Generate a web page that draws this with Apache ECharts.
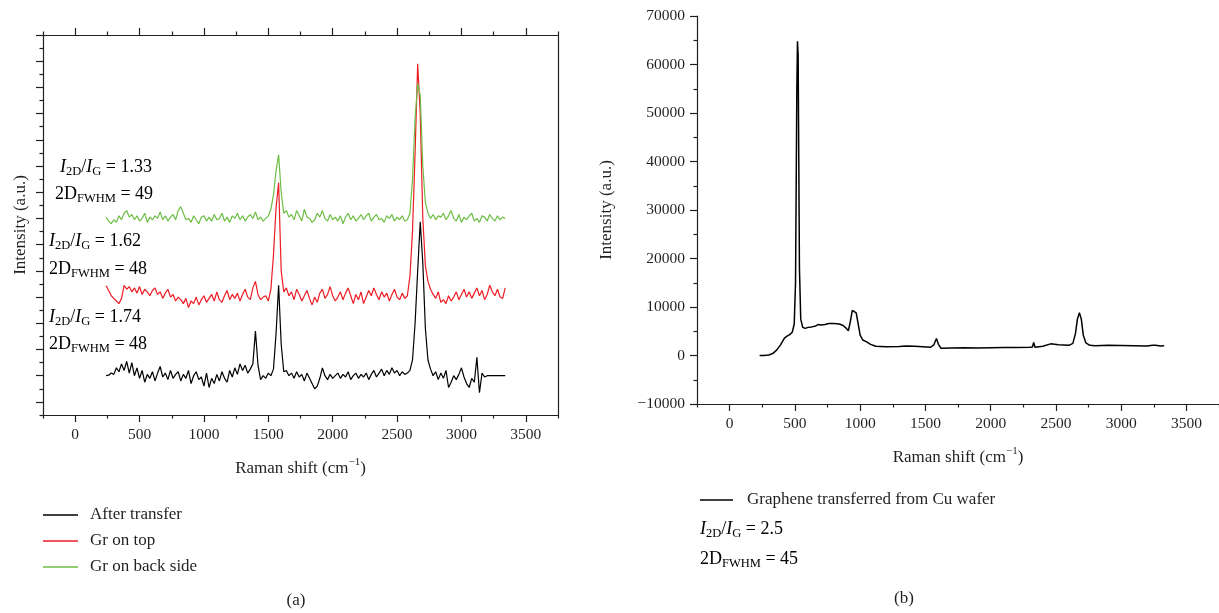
<!DOCTYPE html>
<html><head><meta charset="utf-8">
<script src="https://cdn.jsdelivr.net/npm/echarts@6/dist/echarts.min.js"></script>
<style>html,body{margin:0;padding:0;background:#fff}#c{width:1219px;height:613px}</style>
</head><body><div id="c"></div>
<script>
// ---------- DATA ----------
// Panel (a): sampling grid of Raman shift (cm^-1), 240..3340 step 20
const shiftStart = 240, shiftStep = 20;
const afterTransfer = [
  1.0,1.02,1.1,1.05,1.3,1.15,1.45,1.2,1.55,1.1,
  1.5,1.0,1.3,0.9,1.2,0.75,1.05,0.9,1.15,0.8,
  1.1,1.35,0.95,1.1,0.85,1.2,0.9,1.05,1.15,0.8,
  1.05,0.9,1.2,0.7,1.0,1.15,0.85,0.95,0.6,1.1,
  0.55,0.9,0.7,1.05,0.8,1.15,0.9,0.75,1.2,0.95,
  1.3,1.05,1.45,1.2,1.4,1.1,1.25,1.45,2.7,1.4,
  0.85,1.0,0.9,1.1,1.0,1.25,2.6,4.45,2.2,1.15,
  1.2,1.0,1.1,0.9,1.15,0.95,1.05,0.8,1.1,0.9,
  0.7,0.5,0.6,0.9,1.3,1.0,0.85,1.05,0.9,1.0,
  1.1,0.9,1.05,0.95,1.15,0.85,1.0,1.1,0.9,1.05,
  0.95,1.1,0.85,1.05,1.2,0.95,1.1,1.25,1.0,1.2,
  1.05,1.3,1.1,1.2,1.0,1.15,1.05,1.1,1.2,1.6,
  3.0,5.0,6.87,5.3,2.8,1.6,1.25,1.0,1.15,0.85,
  1.1,0.9,1.2,0.55,0.75,1.0,0.85,1.05,1.3,0.95,
  0.7,0.55,0.9,0.75,1.7,0.35,1.1,0.95,1.0,1.0,
  1.0,1.0,1.0,1.0,1.0,1.0
];
const grOnTop = [
  4.43,4.25,4.05,3.95,3.85,3.75,3.95,4.45,4.3,4.4,
  4.2,4.35,4.15,4.4,4.1,4.3,4.2,4.05,4.25,4.35,
  4.1,4.2,3.95,4.15,4.3,4.0,4.1,3.85,4.0,3.9,
  3.75,3.95,3.6,3.85,3.75,4.0,3.7,3.9,4.05,3.8,
  3.95,4.1,3.85,4.2,3.9,3.8,4.05,4.25,3.9,4.1,
  3.95,4.15,3.85,4.1,4.3,4.0,3.9,4.35,4.6,4.1,
  3.9,4.0,4.05,3.85,4.3,5.6,7.4,8.36,5.0,4.2,
  4.35,4.05,4.2,3.9,4.3,4.1,3.85,4.05,4.25,3.95,
  3.7,4.0,3.8,4.15,4.3,3.95,4.1,4.4,4.05,3.85,
  4.0,4.2,3.9,4.15,4.35,4.05,3.75,4.1,3.9,4.2,
  3.75,4.0,4.25,4.05,4.35,4.1,3.9,4.2,4.0,4.15,
  3.85,4.1,4.3,4.0,3.9,4.15,3.95,4.05,4.8,6.5,
  9.5,12.9,11.0,7.0,5.2,4.6,4.3,4.1,3.95,4.2,
  3.8,3.9,3.75,4.05,3.85,4.0,4.2,3.9,4.1,4.3,
  4.0,4.2,3.95,4.15,4.35,4.05,4.25,3.9,4.1,4.45,
  4.2,4.05,4.3,4.0,3.95,4.35
];
const grOnBackSide = [
  7.04,6.9,6.8,6.95,6.85,7.1,6.95,7.2,7.3,7.05,
  7.15,6.95,7.1,6.9,7.0,7.2,6.85,7.05,6.95,7.1,
  7.0,7.25,6.95,7.1,6.9,7.05,7.15,6.95,7.3,7.45,
  7.2,6.95,7.0,6.85,7.1,6.95,6.8,7.05,7.1,6.9,
  7.05,6.9,7.15,6.95,7.0,7.2,6.9,7.05,6.85,7.1,
  7.0,7.2,6.95,7.1,6.9,7.05,7.15,7.0,7.25,6.95,
  7.05,6.9,7.0,7.1,7.35,7.9,8.8,9.44,8.0,7.2,
  7.3,7.05,7.15,6.95,7.3,7.1,6.9,7.35,7.05,7.0,
  6.85,6.95,7.2,7.05,7.3,7.0,6.9,7.15,6.95,7.05,
  6.9,7.1,6.8,7.05,7.2,6.95,7.1,6.9,7.0,7.15,
  6.95,7.1,7.2,6.9,7.05,7.15,6.95,7.0,6.85,7.1,
  7.0,7.15,6.9,7.05,6.95,7.1,6.9,6.95,7.2,8.5,
  10.8,12.15,11.7,9.0,7.6,7.2,7.0,7.15,6.95,7.1,
  7.05,7.2,6.95,7.1,7.3,7.0,6.9,7.15,6.85,7.05,
  6.95,7.1,7.2,6.9,7.0,6.85,7.1,7.05,6.9,7.15,
  7.0,6.9,7.1,6.95,7.05,7.0
];
// Panel (b)
const waferShift = [
  230,260,300,330,360,390,420,440,460,480,
  495,505,510,515,520,525,530,535,545,560,
  580,600,630,660,680,700,730,760,800,840,
  870,890,910,925,940,955,970,985,1000,1020,
  1050,1080,1120,1200,1300,1350,1420,1480,1540,1565,
  1585,1600,1620,1700,1800,1900,2000,2100,2200,2300,
  2320,2330,2340,2400,2460,2520,2600,2630,2650,2665,
  2680,2695,2710,2730,2760,2800,2900,3000,3100,3200,
  3240,3250,3265,3300,3330
];
const waferIntensity = [
  0,0,100,400,1100,2200,3600,4000,4300,4800,
  6500,15000,35000,55000,64800,62000,40000,18000,7500,5800,
  5600,5800,5900,6100,6400,6300,6400,6600,6600,6500,
  6200,5700,5100,7000,9300,9100,8800,6500,4200,3200,
  2800,2300,1900,1800,1850,1950,1900,1800,1700,2200,
  3500,2300,1500,1550,1600,1550,1600,1650,1650,1700,
  1750,2700,1700,1900,2400,2200,2100,2500,4500,7500,
  8800,7500,4200,2600,2100,2000,2100,2050,2000,1950,
  2100,2500,2100,1950,2000
];
// Tick values
const xMajorTicks = [0,500,1000,1500,2000,2500,3000,3500];
const xMinorTicks = [-250,250,750,1250,1750,2250,2750,3250,3750];
const aYMajorTicks = [0,1,2,3,4,5,6,7,8,9,10,11,12,13,14];
const aYMinorTicks = [-0.5,0.5,1.5,2.5,3.5,4.5,5.5,6.5,7.5,8.5,9.5,10.5,11.5,12.5,13.5];
const bYMajorTicks = [-10000,0,10000,20000,30000,40000,50000,60000,70000];
const bYMinorTicks = [-5000,5000,15000,25000,35000,45000,55000,65000];
const seriesNamesA = ['After transfer','Gr on top','Gr on back side'];
const seriesNameB = 'Graphene transferred from Cu wafer';

// ---------- CHART ----------
const FONT = 'Liberation Serif';
const INK = '#231f20';
const RED = '#ed1c24', GREEN = '#6dbe45';
const pairs = vals => vals.map((v,i)=>[shiftStart + shiftStep*i, v]);
const plainNum = v => v < 0 ? '−' + Math.abs(v) : String(v);

const chart = echarts.init(document.getElementById('c'), null, {renderer:'canvas'});

const axisLineStyle = {show:true, onZero:false, lineStyle:{color:INK, width:1.2}};
const noLine = {show:false, onZero:false};
const nameRich = {
  n:{fontFamily:FONT, fontSize:17, color:INK, lineHeight:20, verticalAlign:'bottom'},
  p:{fontFamily:FONT, fontSize:11, color:INK, lineHeight:8, verticalAlign:'top'}
};
const ramanName = '{n|Raman shift (cm}{p|−1}{n|)}';

function xAxes(grid, pos, withLabels) {
  const base = {type:'value', gridIndex:grid, position:pos, min:-250, max:3750,
    splitLine:{show:false}, axisLine:axisLineStyle};
  const maj = Object.assign({}, base, {
    axisTick:{show:true, inside:false, length:7, customValues:xMajorTicks, lineStyle:{color:INK, width:1.2}},
    axisLabel: withLabels ? {show:true, customValues:xMajorTicks, margin:12, fontFamily:FONT, fontSize:15.5, color:INK, formatter:plainNum}
                          : {show:false}
  });
  if (withLabels) {
    maj.name = ramanName; maj.nameLocation = 'middle'; maj.nameGap = 42;
    maj.nameTextStyle = {rich:nameRich};
  }
  const min = Object.assign({}, base, {
    axisLine:noLine,
    axisTick:{show:true, inside:false, length:3.5, customValues:xMinorTicks, lineStyle:{color:INK, width:1.2}},
    axisLabel:{show:false}
  });
  return [maj, min];
}

const option = {
  animation:false,
  backgroundColor:'#fff',
  grid:[
    {left:43, top:35, width:515, height:380},
    {left:697, top:16, width:525, height:388}
  ],
  xAxis:[
    ...xAxes(0,'bottom',true),   // 0,1
    ...xAxes(0,'top',false),     // 2,3
    ...xAxes(1,'bottom',true)    // 4,5
  ],
  yAxis:[
    {type:'value', gridIndex:0, position:'left', min:-0.5, max:14, splitLine:{show:false},
      axisLine:axisLineStyle,
      axisTick:{show:true, length:7, customValues:aYMajorTicks, lineStyle:{color:INK, width:1.2}},
      axisLabel:{show:false},
      name:'Intensity (a.u.)', nameLocation:'middle', nameGap:14,
      nameTextStyle:{fontFamily:FONT, fontSize:17, color:INK}},
    {type:'value', gridIndex:0, position:'left', min:-0.5, max:14, splitLine:{show:false},
      axisLine:noLine,
      axisTick:{show:true, length:3.5, customValues:aYMinorTicks, lineStyle:{color:INK, width:1.2}},
      axisLabel:{show:false}},
    {type:'value', gridIndex:0, position:'right', min:-0.5, max:14, splitLine:{show:false},
      axisLine:axisLineStyle, axisTick:{show:false}, axisLabel:{show:false}},
    {type:'value', gridIndex:1, position:'left', min:-10000, max:70000, splitLine:{show:false},
      axisLine:axisLineStyle,
      axisTick:{show:true, length:7, customValues:bYMajorTicks, lineStyle:{color:INK, width:1.2}},
      axisLabel:{show:true, customValues:bYMajorTicks, margin:12, fontFamily:FONT, fontSize:15.5, color:INK,
        formatter:plainNum},
      name:'Intensity (a.u.)', nameLocation:'middle', nameGap:82,
      nameTextStyle:{fontFamily:FONT, fontSize:17, color:INK}},
    {type:'value', gridIndex:1, position:'left', min:-10000, max:70000, splitLine:{show:false},
      axisLine:noLine,
      axisTick:{show:true, length:3.5, customValues:bYMinorTicks, lineStyle:{color:INK, width:1.2}},
      axisLabel:{show:false}}
  ],
  legend:[
    {data:seriesNamesA, orient:'vertical', left:38, top:501, icon:'rect', itemWidth:35, itemHeight:1.5, itemGap:8,
      textStyle:{fontFamily:FONT, fontSize:17, color:INK, lineHeight:18, padding:[0,0,0,7]}, selectedMode:false},
    {data:[seriesNameB], orient:'horizontal', left:695, top:486, icon:'rect', itemWidth:33, itemHeight:1.5,
      textStyle:{fontFamily:FONT, fontSize:17, color:INK, lineHeight:18, padding:[0,0,0,9]}, selectedMode:false}
  ],
  series:[
    {name:seriesNamesA[0], type:'line', xAxisIndex:0, yAxisIndex:0, data:pairs(afterTransfer),
      symbol:'none', lineStyle:{color:'#000', width:1.2}, itemStyle:{color:'#000'}},
    {name:seriesNamesA[1], type:'line', xAxisIndex:0, yAxisIndex:0, data:pairs(grOnTop),
      symbol:'none', lineStyle:{color:RED, width:1.2}, itemStyle:{color:RED}},
    {name:seriesNamesA[2], type:'line', xAxisIndex:0, yAxisIndex:0, data:pairs(grOnBackSide),
      symbol:'none', lineStyle:{color:GREEN, width:1.2}, itemStyle:{color:GREEN}},
    {name:seriesNameB, type:'line', xAxisIndex:4, yAxisIndex:3,
      data:waferShift.map((x,i)=>[x, waferIntensity[i]]),
      symbol:'none', lineStyle:{color:'#000', width:1.5}, itemStyle:{color:'#000'}}
  ]
};

// subscripts: pushed down with top padding inside the token box
const annRich = {
  i:{fontFamily:FONT, fontStyle:'italic', fontSize:18, color:INK, lineHeight:22, verticalAlign:'middle'},
  m:{fontFamily:FONT, fontSize:18, color:INK, lineHeight:22, verticalAlign:'middle'},
  s:{fontFamily:FONT, fontSize:12.5, color:INK, lineHeight:12, padding:[10,0,0,0], verticalAlign:'middle'}
};
function ratioText(v){ return '{i|I}{s|2D}{m|/}{i|I}{s|G}{m| = ' + v + '}'; }
function fwhmText(v){ return '{m|2D}{s|FWHM}{m| = ' + v + '}'; }
function ann(x, y, text){
  return {type:'text', x:x, y:y, style:{text:text, rich:annRich, textAlign:'left', textVerticalAlign:'top'}};
}
option.graphic = [
  ann(60,156,ratioText('1.33')), ann(55,183,fwhmText('49')),
  ann(49,230,ratioText('1.62')), ann(49,258,fwhmText('48')),
  ann(49,306,ratioText('1.74')), ann(49,333,fwhmText('48')),
  ann(700,518,ratioText('2.5')), ann(700,548,fwhmText('45')),
  {type:'text', x:296, y:601, style:{text:'(a)', fontFamily:FONT, fontSize:17, fill:INK, textAlign:'center', textVerticalAlign:'middle'}},
  {type:'text', x:904, y:599, style:{text:'(b)', fontFamily:FONT, fontSize:17, fill:INK, textAlign:'center', textVerticalAlign:'middle'}}
];

chart.setOption(option);
</script>
</body></html>
